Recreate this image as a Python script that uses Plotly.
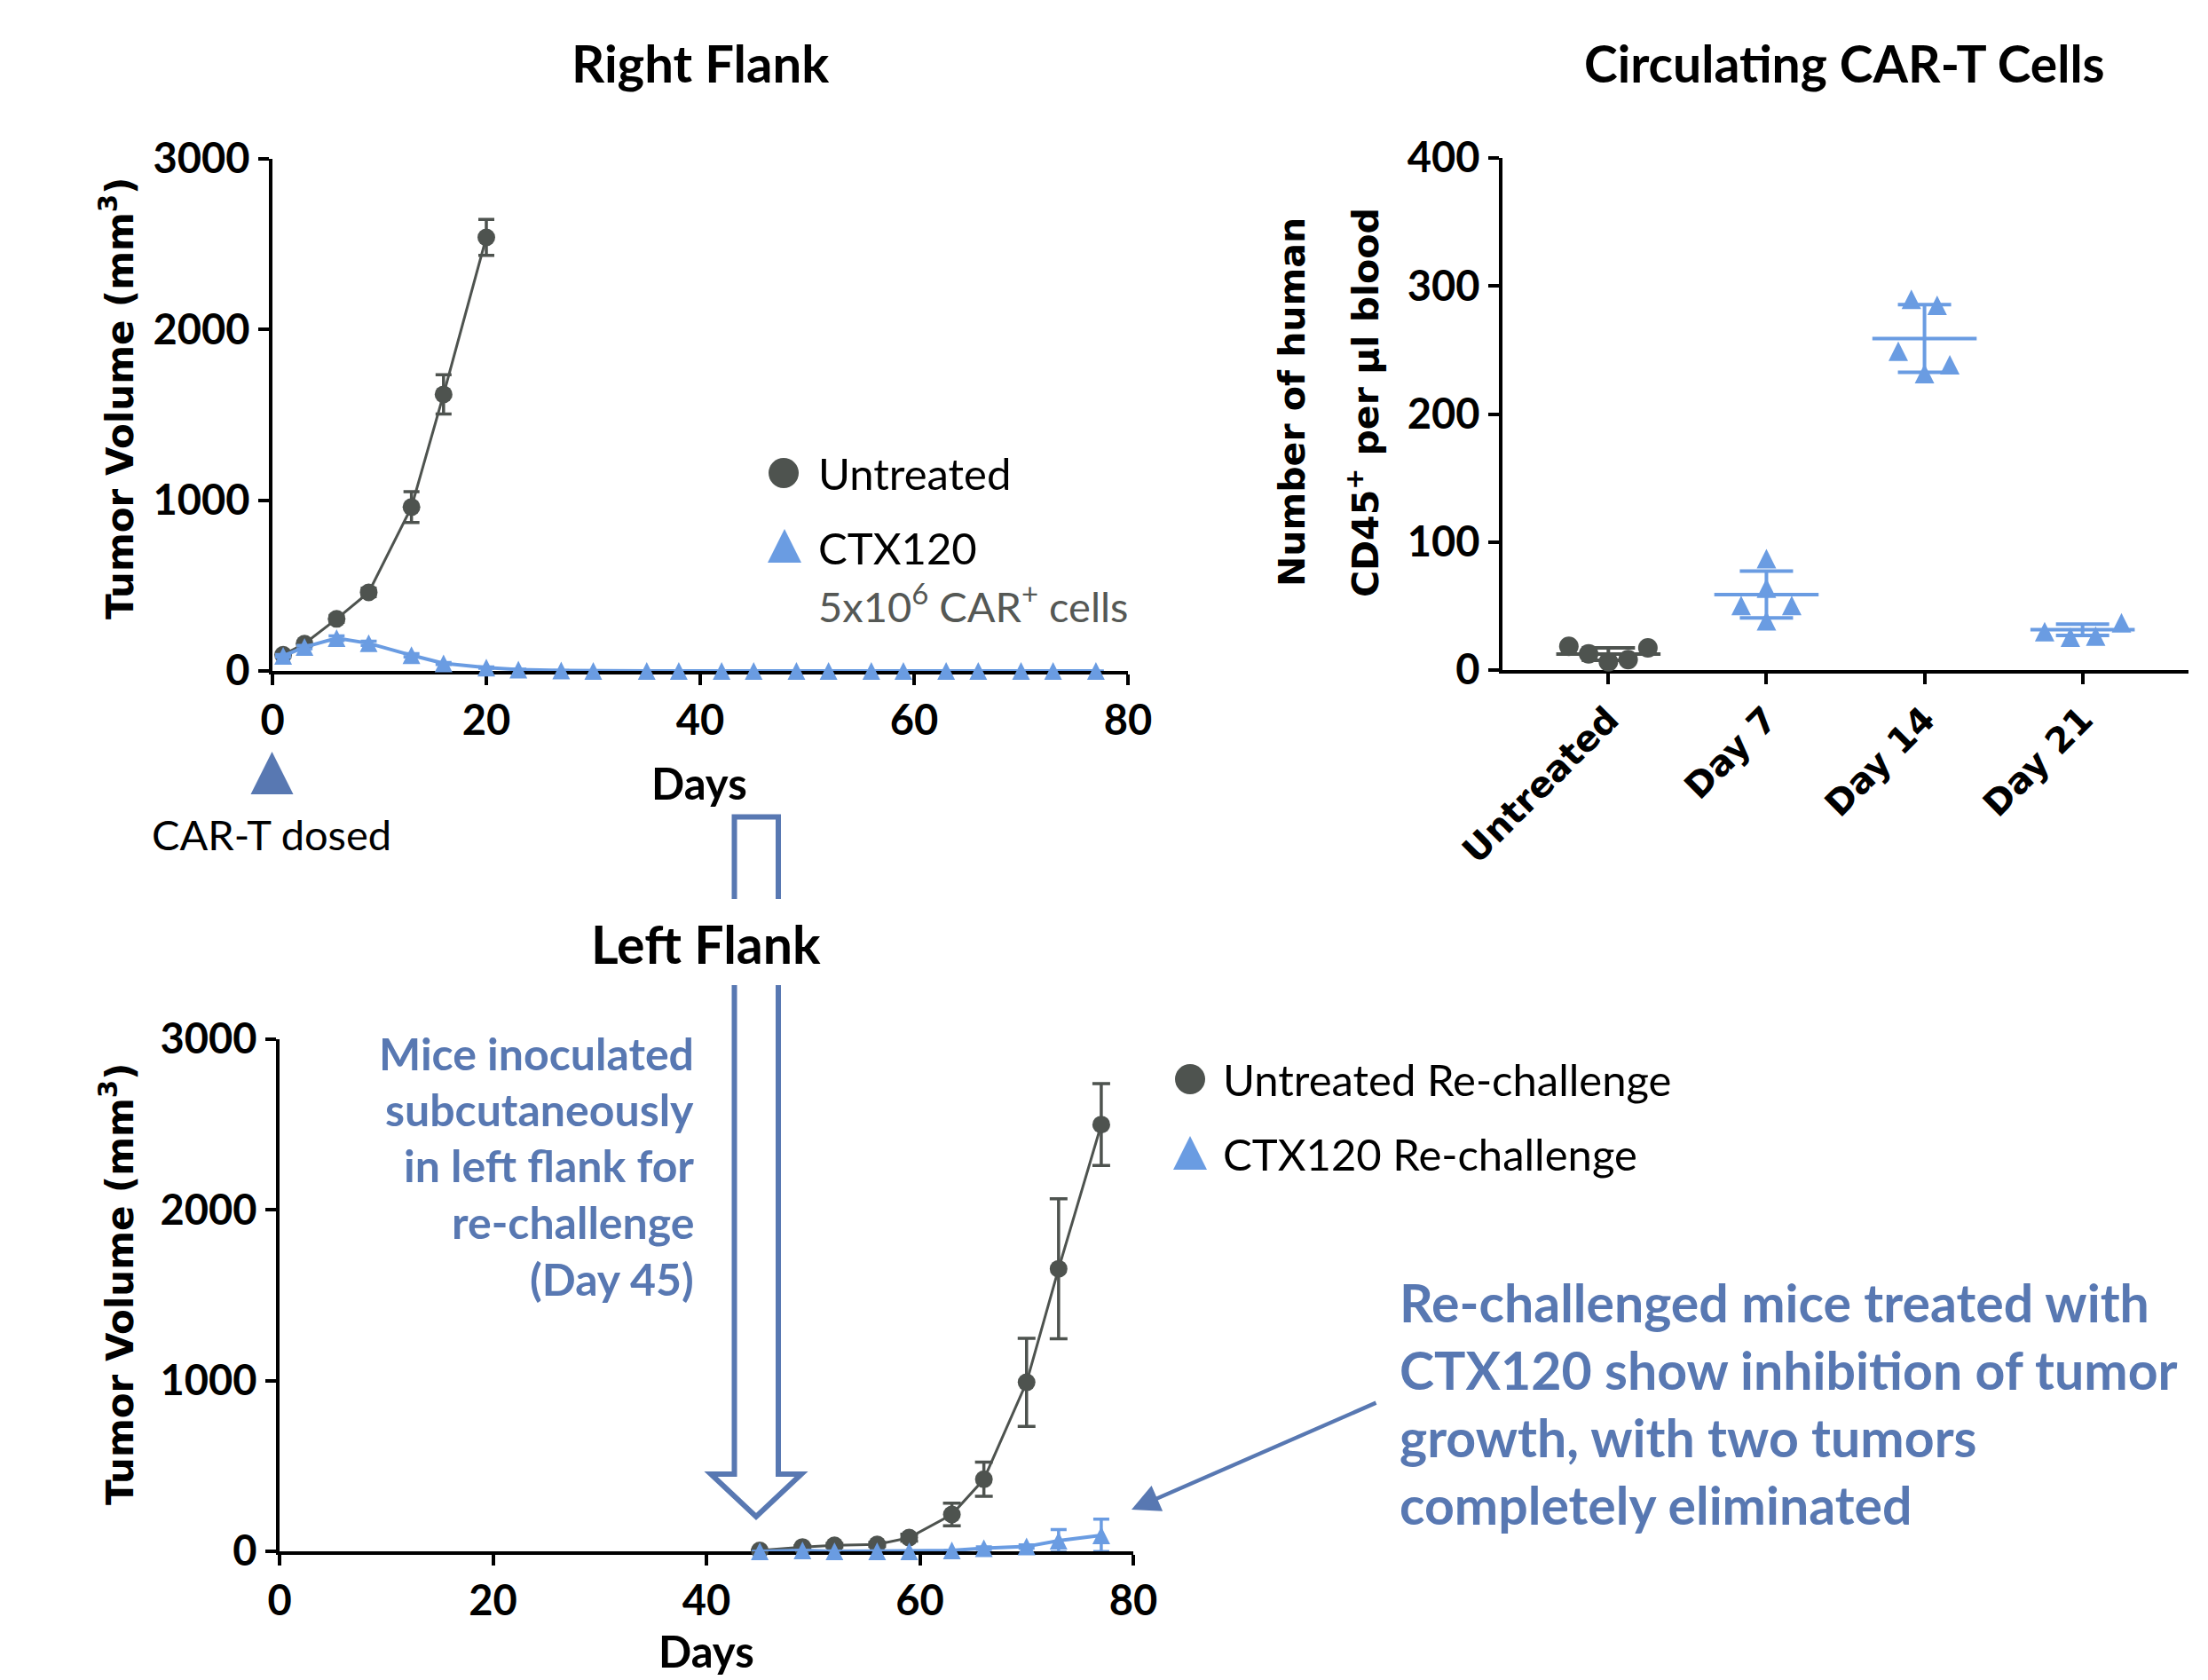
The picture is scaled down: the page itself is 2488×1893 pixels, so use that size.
import plotly.graph_objects as go

W, H = 2488, 1893


def px(x):
    return x / W


def py(y):
    return 1 - y / H


GREY = "#4E534F"
BLUE = "#6A9CE2"
NAVY = "#5878B2"
FONT = "Lato"
VFONT = "DejaVu Sans"

# ---------------- data ----------------
# Right flank (primary tumour)
rf_untreated_days = [1, 3, 6, 9, 13, 16, 20]
rf_untreated_vol = [95, 160, 305, 460, 960, 1620, 2540]
rf_untreated_sem = [10, 12, 20, 25, 90, 115, 105]

rf_ctx_days = [1, 3, 6, 9, 13, 16, 20, 23, 27, 30, 35, 38, 42, 45, 49, 52, 56, 59, 63, 66, 70, 73, 77]
rf_ctx_vol = [88, 140, 192, 162, 92, 44, 20, 8, 2, 0, 0, 0, 0, 0, 0, 0, 0, 0, 0, 0, 0, 0, 0]
rf_ctx_sem = [8, 10, 14, 12, 10, 6, 4, 2, 1, 0, 0, 0, 0, 0, 0, 0, 0, 0, 0, 0, 0, 0, 0]

# Left flank (re-challenge)
lf_days = [45, 49, 52, 56, 59, 63, 66, 70, 73, 77]
lf_untreated_vol = [5, 25, 35, 40, 80, 216, 422, 990, 1655, 2500]
lf_untreated_sem = [3, 8, 10, 12, 20, 66, 100, 258, 410, 240]
lf_ctx_vol = [0, 5, 0, 0, 0, 5, 18, 28, 62, 94]
lf_ctx_sem = [0, 0, 0, 0, 0, 0, 8, 10, 66, 95]

# Circulating CAR-T cells
car_groups = ["Untreated", "Day 7", "Day 14", "Day 21"]
car_untreated = [18.5, 12.7, 6.4, 8.1, 17.3]
car_untreated_offset = [-0.25, -0.125, 0, 0.125, 0.25]
car_day7 = [87, 64, 50.5, 50.5, 38.5]
car_day7_offset = [0, 0, -0.16, 0.16, 0]
car_day14 = [289.6, 285, 249, 238.5, 231.6]
car_day14_offset = [-0.083, 0.08, -0.166, 0.16, 0]
car_day21 = [30, 25.6, 26.5, 37]
car_day21_offset = [-0.24, -0.077, 0.083, 0.246]
car_mean = [12.5, 59, 259, 31.5]
car_sd = [4.8, 18.3, 26.5, 4.4]


def tri(size, color):
    # upward triangle whose bounding box is centred on the data point
    return dict(symbol="arrow-down", angle=180, size=size, color=color, standoff=size / 2)


fig = go.Figure()

# ---------------- Right flank ----------------
fig.add_trace(go.Scatter(
    x=rf_untreated_days, y=rf_untreated_vol, mode="lines+markers",
    line=dict(color=GREY, width=3),
    marker=dict(symbol="circle", size=20, color=GREY),
    error_y=dict(type="data", array=rf_untreated_sem, color=GREY, thickness=3.5, width=9),
    xaxis="x", yaxis="y", cliponaxis=False, showlegend=False))
fig.add_trace(go.Scatter(
    x=rf_ctx_days, y=rf_ctx_vol, mode="lines+markers",
    line=dict(color=BLUE, width=4),
    marker=tri(20, BLUE),
    error_y=dict(type="data", array=rf_ctx_sem, color=BLUE, thickness=3.5, width=9),
    xaxis="x", yaxis="y", cliponaxis=False, showlegend=False))

# ---------------- Left flank ----------------
fig.add_trace(go.Scatter(
    x=lf_days, y=lf_untreated_vol, mode="lines+markers",
    line=dict(color=GREY, width=3),
    marker=dict(symbol="circle", size=20, color=GREY),
    error_y=dict(type="data", array=lf_untreated_sem, color=GREY, thickness=3.5, width=10),
    xaxis="x3", yaxis="y3", cliponaxis=False, showlegend=False))
fig.add_trace(go.Scatter(
    x=lf_days, y=lf_ctx_vol, mode="lines+markers",
    line=dict(color=BLUE, width=4),
    marker=tri(20, BLUE),
    error_y=dict(type="data", array=lf_ctx_sem, color=BLUE, thickness=3.5, width=9),
    xaxis="x3", yaxis="y3", cliponaxis=False, showlegend=False))

# ---------------- Circulating CAR-T ----------------
groups_pts = [
    (0, car_untreated, car_untreated_offset, GREY, "circle"),
    (1, car_day7, car_day7_offset, BLUE, "tri"),
    (2, car_day14, car_day14_offset, BLUE, "tri"),
    (3, car_day21, car_day21_offset, BLUE, "tri"),
]
for gi, vals, offs, col, sym in groups_pts:
    mk = tri(22, col) if sym == "tri" else dict(symbol="circle", size=22, color=col)
    fig.add_trace(go.Scatter(
        x=[gi + o for o in offs], y=vals, mode="markers", marker=mk,
        xaxis="x2", yaxis="y2", cliponaxis=False, showlegend=False))

for idx, col in [([0], GREY), ([1, 2, 3], BLUE)]:
    fig.add_trace(go.Scatter(
        x=idx, y=[car_mean[i] for i in idx], mode="markers",
        marker=dict(size=1, color="rgba(0,0,0,0)"),
        error_y=dict(type="data", array=[car_sd[i] for i in idx], color=col, thickness=4, width=30),
        error_x=dict(type="constant", value=0.33, color=col, thickness=4, width=0),
        xaxis="x2", yaxis="y2", cliponaxis=False, showlegend=False))

# ---------------- overlay for legend symbols ----------------
leg_x = [883, 884, 1341, 1341, 306.5]
leg_y = [533, 615, 1216, 1299, 871]
leg_sym = ["circle", "tri", "circle", "tri", "tri"]
leg_size = [34, 38, 34, 38, 48]
leg_col = [GREY, BLUE, GREY, BLUE, NAVY]
for lx, ly, ls, lsz, lc in zip(leg_x, leg_y, leg_sym, leg_size, leg_col):
    mk = tri(lsz, lc) if ls == "tri" else dict(symbol="circle", size=lsz, color=lc)
    fig.add_trace(go.Scatter(x=[lx], y=[ly], mode="markers", marker=mk,
                             xaxis="x4", yaxis="y4", cliponaxis=False, showlegend=False))

# ---------------- axes ----------------
tickfont = dict(family=FONT, size=47, color="black", weight="bold")
common = dict(showline=True, linecolor="black", linewidth=4, ticks="outside", ticklen=12,
              tickwidth=4, tickcolor="black", showgrid=False, zeroline=False,
              tickfont=tickfont, layer="below traces", fixedrange=True, automargin=False)

fig.update_layout(
    template="none",
    width=W, height=H, margin=dict(l=0, r=0, t=0, b=0, pad=0, autoexpand=False),
    paper_bgcolor="white", plot_bgcolor="rgba(0,0,0,0)",
    showlegend=False,
    xaxis=dict(domain=[px(307), px(1271)], range=[0, 80], tickvals=[0, 20, 40, 60, 80],
               anchor="y", **common),
    yaxis=dict(domain=[py(756), py(179)], range=[0, 3000], tickvals=[0, 1000, 2000, 3000],
               anchor="x", **common),
    xaxis2=dict(domain=[px(1693), px(2466)], range=[-0.67, 3.67], tickvals=[0, 1, 2, 3],
                ticktext=car_groups, tickangle=-45, anchor="y2",
                **{**common, "tickfont": dict(family=VFONT, size=40, color="black", weight="bold")}),
    yaxis2=dict(domain=[py(755), py(178)], range=[0, 400], tickvals=[0, 100, 200, 300, 400],
                anchor="x2", **common),
    xaxis3=dict(domain=[px(315), px(1277)], range=[0, 80], tickvals=[0, 20, 40, 60, 80],
                anchor="y3", **common),
    yaxis3=dict(domain=[py(1748), py(1171)], range=[0, 3000], tickvals=[0, 1000, 2000, 3000],
                anchor="x3", **common),
    xaxis4=dict(domain=[0, 1], range=[0, W], visible=False, fixedrange=True, anchor="y4",
                automargin=False),
    yaxis4=dict(domain=[0, 1], range=[H, 0], visible=False, fixedrange=True, anchor="x4",
                automargin=False),
)


def ann(text, x, y, size, color="black", family=FONT, weight="normal",
        xanchor="center", yanchor="middle", angle=0):
    return dict(text=text, x=px(x), y=py(y), xref="paper", yref="paper", showarrow=False,
                font=dict(family=family, size=size, color=color, weight=weight),
                xanchor=xanchor, yanchor=yanchor, textangle=angle)


anns = [
    ann("Right Flank", 789, 71, 58, weight="bold"),
    ann("Circulating CAR-T Cells", 2078, 71, 57, weight="bold"),
    ann("Left Flank", 795, 1063, 59, weight="bold"),
    ann("Days", 788, 882, 49, weight="bold"),
    ann("Days", 796, 1860, 49, weight="bold"),
    ann("Tumor Volume (mm<sup>3</sup>)", 132, 449, 42, family=VFONT, weight="bold", angle=-90),
    ann("Tumor Volume (mm<sup>3</sup>)", 132, 1447, 42, family=VFONT, weight="bold", angle=-90),
    ann("Number of human", 1456, 453, 41, family=VFONT, weight="bold", angle=-90),
    ann("CD45<sup>+</sup> per μl blood", 1536, 454, 41, family=VFONT, weight="bold", angle=-90),
    ann("Untreated", 920, 533, 49, xanchor="left"),
    ann("CTX120", 920, 617, 49, xanchor="left"),
    ann("5x10<sup>6</sup> CAR<sup>+</sup> cells", 920, 680, 47, color="#555855", xanchor="left"),
    ann("Untreated Re-challenge", 1376, 1216, 49, xanchor="left"),
    ann("CTX120 Re-challenge", 1376, 1300, 49, xanchor="left"),
    ann("CAR-T dosed", 306, 940, 47),
]
mice_lines = ["Mice inoculated", "subcutaneously", "in left flank for", "re-challenge", "(Day 45)"]
mice_y = [1187, 1250, 1313, 1377, 1441]
for t, yy in zip(mice_lines, mice_y):
    anns.append(ann(t, 784, yy, 50, color=NAVY, weight="bold", xanchor="right"))
rc_lines = ["Re-challenged mice treated with", "CTX120 show inhibition of tumor",
            "growth, with two tumors", "completely eliminated"]
rc_y = [1467, 1543, 1619, 1695]
for t, yy in zip(rc_lines, rc_y):
    anns.append(ann(t, 1575, yy, 59, color=NAVY, weight="bold", xanchor="left"))

anns.append(dict(text="", x=px(1275), y=py(1701), xref="paper", yref="paper",
                 showarrow=True, ax=1552 - 1275, ay=1580 - 1701, axref="pixel", ayref="pixel",
                 arrowcolor=NAVY, arrowwidth=4.5, arrowhead=2, arrowsize=1.4, standoff=0))
fig.update_layout(annotations=anns)

# hollow arrow
pts = [(827.5, 920.5), (877, 920.5), (877, 1661), (903, 1661), (852, 1709),
       (801, 1661), (827.5, 1661)]
path = "M " + " L ".join(f"{px(a):.5f},{py(b):.5f}" for a, b in pts) + " Z"
shapes = [
    dict(type="path", path=path, xref="paper", yref="paper",
         line=dict(color=NAVY, width=6), fillcolor="white", layer="above"),
    dict(type="rect", x0=px(810), x1=px(895), y0=py(1110), y1=py(1013), xref="paper",
         yref="paper", line=dict(width=0), fillcolor="white", layer="above"),
]
fig.update_layout(shapes=shapes)

fig.write_html("out.html")
